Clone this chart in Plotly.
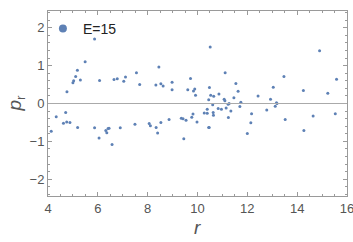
import plotly.graph_objects as go

r_vals = [5.87, 5.49, 5.18, 5.11, 5.30, 5.03, 5.00, 4.76, 6.07, 6.65, 6.78, 7.04, 7.11, 7.55, 7.68,
          8.45, 8.33, 8.53, 8.62, 8.98, 8.98, 9.72, 9.61, 9.84, 9.89, 9.92, 10.51, 11.11, 10.48,
          11.54, 11.63, 10.53, 10.65, 10.86, 10.45, 11.07, 11.10, 11.46, 11.74, 11.27, 13.47,
          13.04, 12.43, 12.93, 13.17, 13.19, 14.90, 15.58, 14.25, 15.23,
          4.71, 4.33, 4.62, 4.75, 4.88, 5.19, 5.87, 4.13, 6.05, 6.32, 6.36, 6.41, 6.45, 6.57,
          6.90, 7.49, 8.06, 8.11, 8.34, 8.53, 8.40, 8.86, 9.35, 9.42, 9.54, 9.45, 9.77, 9.82,
          9.98, 10.45, 11.70, 11.23, 10.61, 10.39, 10.83, 10.96, 11.15, 11.34, 10.27, 10.39,
          10.63, 10.64, 11.24, 10.47, 12.00, 13.12, 12.78, 12.17, 12.14, 13.52, 14.27, 15.53,
          14.64]
p_vals = [1.70, 1.10, 0.88, 0.71, 0.62, 0.60, 0.55, 0.31, 0.61, 0.63, 0.65, 0.59, 0.70, 0.81, 0.50,
          0.96, 0.49, 0.52, 0.46, 0.56, 0.36, 0.66, 0.36, 0.33, 0.38, 0.22, 1.49, 0.81, 0.42,
          0.53, 0.32, 0.22, 0.19, 0.25, 0.10, 0.11, 0.07, 0.15, 0.03, 0.00, 0.71,
          0.43, 0.20, 0.11, 0.02, 0.00, 1.39, 0.64, 0.34, 0.27,
          -0.24, -0.35, -0.52, -0.49, -0.50, -0.63, -0.64, -0.73, -0.91, -0.71, -0.77, -0.66, -0.65, -1.08,
          -0.64, -0.55, -0.53, -0.59, -0.63, -0.50, -0.78, -0.42, -0.39, -0.40, -0.44, -0.93, -0.36, -0.28,
          -0.49, -0.63, -0.08, -0.02, -0.03, -0.15, -0.13, -0.15, -0.12, -0.20, -0.25, -0.26,
          -0.24, -0.31, -0.37, -0.63, -0.79, -0.07, -0.17, -0.27, -0.51, -0.42, -0.71, -0.27,
          -0.33]
series_name = "E=15"
x_ticks = [4, 6, 8, 10, 12, 14, 16]
y_ticks = [-2, -1, 0, 1, 2]

color = "#5E81B5"
frame = "#9a9a9a"
font = "Liberation Sans, Arial, sans-serif"

fig = go.Figure()
fig.add_trace(go.Scatter(x=r_vals, y=p_vals, mode="markers", showlegend=False,
                         marker=dict(color=color, size=3, line=dict(width=0))))
fig.add_trace(go.Scatter(x=[None], y=[None], mode="markers", name=series_name,
                         marker=dict(color=color, size=8, line=dict(width=0))))

axis_common = dict(showgrid=False, zeroline=False, showline=True, linecolor=frame, linewidth=1,
                   mirror="allticks", ticks="inside", ticklen=4, tickcolor=frame, tickwidth=1,
                   automargin=False, ticklabeloverflow="allow",
                   tickfont=dict(family=font, size=13, color="#555555"))
fig.update_xaxes(range=[4, 16], tickvals=x_ticks, **axis_common,
                 minor=dict(dtick=0.5, ticks="inside", ticklen=2, tickcolor=frame))
fig.update_yaxes(range=[-2.44, 2.44], tickvals=y_ticks, **axis_common,
                 minor=dict(dtick=0.2, ticks="inside", ticklen=2, tickcolor=frame))

fig.add_hline(y=0, line=dict(color="#aaaaaa", width=1))

fig.add_annotation(text="<i>r</i>", xref="paper", yref="paper", x=0.5, y=-0.17,
                   xanchor="center", yanchor="middle", showarrow=False,
                   font=dict(family=font, size=19, color="#555555"))
fig.add_annotation(text="<i>p</i><sub>r</sub>", xref="paper", yref="paper", x=-0.11, y=0.5,
                   xanchor="center", yanchor="middle", showarrow=False, textangle=-90,
                   font=dict(family=font, size=19, color="#555555"))

fig.update_layout(
    width=353, height=242,
    margin=dict(l=48, r=6, t=11, b=46),
    plot_bgcolor="white", paper_bgcolor="white",
    legend=dict(x=-0.017, y=0.99, xanchor="left", yanchor="top", bgcolor="rgba(0,0,0,0)",
                font=dict(family=font, size=14, color="#222222"), itemwidth=30),
)

fig.write_html("out.html", config={"displayModeBar": False},
               post_script="document.body.style.margin='0';")
